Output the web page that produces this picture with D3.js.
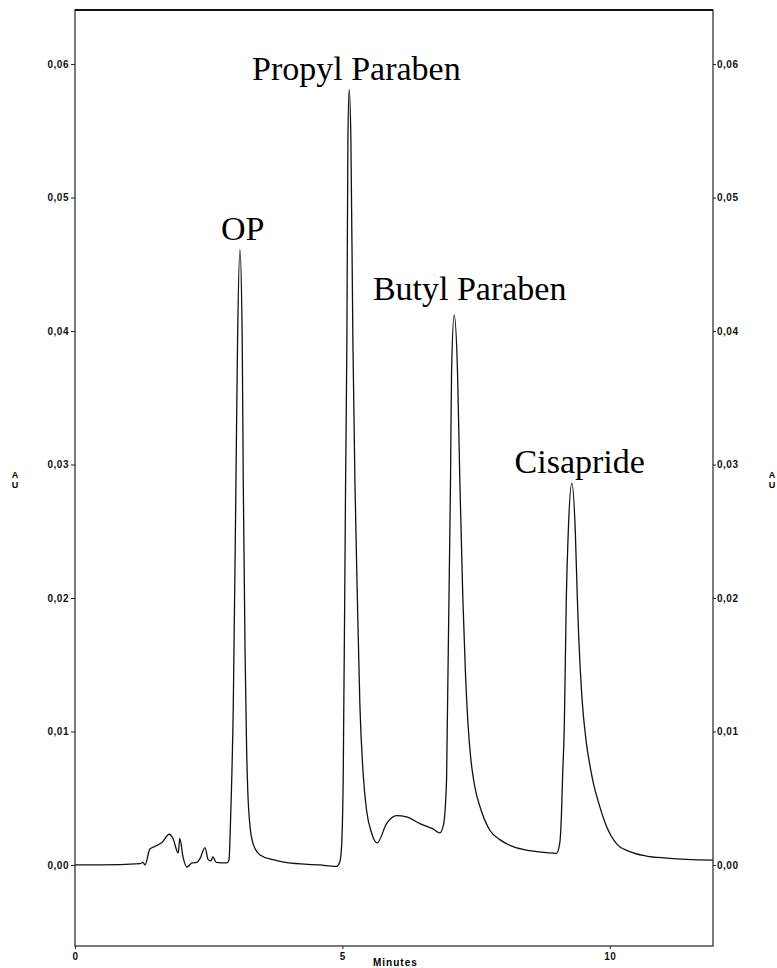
<!DOCTYPE html>
<html>
<head>
<meta charset="utf-8">
<script src="https://cdnjs.cloudflare.com/ajax/libs/d3/7.8.5/d3.min.js"></script>
<style>
  body { margin: 0; background: #fff; }
  .tick text { font-family: Arial, "Liberation Sans", sans-serif; font-weight: bold; font-size: 10px; letter-spacing: 0.5px; fill: #111; }
  .tick line { stroke: #222; }
  .domain { display: none; }
</style>
</head>
<body>
<div id="chart"></div>
<script>
// retention time (minutes) and absorbance (AU)
let times = [0, 0.47, 1.22, 1.27, 1.31, 1.40, 1.50, 1.63, 1.76, 1.83, 1.93, 1.96, 2.02, 2.09, 2.19, 2.28, 2.34, 2.43, 2.49, 2.54, 2.58, 2.64, 2.84, 2.88,
    2.91, 2.96, 3.01, 3.04, 3.084, 3.127, 3.146, 3.18, 3.21, 3.234, 3.27, 3.33, 3.46, 3.70, 3.96, 4.58,
    4.89, 4.95, 4.985, 5.015, 5.06, 5.084, 5.103, 5.127, 5.159, 5.196, 5.234, 5.28, 5.327, 5.389, 5.452, 5.546, 5.65,
    5.826, 6.013, 6.2, 6.449, 6.697, 6.822, 6.89, 6.948, 7.022, 7.041, 7.09, 7.153, 7.196, 7.252, 7.30, 7.35, 7.40, 7.445, 7.50,
    7.57, 7.757, 7.944, 8.193, 8.505, 8.817, 9.004, 9.065, 9.097, 9.116, 9.15, 9.187, 9.224, 9.29, 9.355, 9.393,
    9.42, 9.48, 9.56, 9.64, 9.70, 9.781, 9.938, 10.125, 10.374, 10.686, 11.06, 11.434, 11.93]
let absorbance = [0, 0, 0.0001, 0.0002, 0.0000, 0.0012, 0.0014, 0.0017, 0.0023, 0.0020, 0.0009, 0.0020, 0.0006, -0.00015, 0.00015, 0.0002, 0.0005, 0.0013, 0.0004, 0.0003, 0.0006, 0.0002, 0.00015, 0.0004,
    0.0035, 0.0120, 0.0288, 0.0393, 0.0461, 0.0393, 0.0288, 0.0160, 0.0085, 0.0052, 0.0030, 0.0016, 0.00075, 0.0004, 0.00017, 0.0000,
    -0.0001, 0.0002, 0.0014, 0.0064, 0.0288, 0.0393, 0.0543, 0.0581, 0.0543, 0.0393, 0.0288, 0.0200, 0.0120, 0.0068, 0.0041, 0.0024, 0.00165,
    0.0031, 0.0037, 0.0036, 0.0031, 0.0027, 0.0024, 0.0030, 0.0064, 0.0288, 0.0369, 0.0412, 0.0369, 0.0288, 0.0200, 0.0145, 0.0105, 0.0080, 0.0066, 0.0054,
    0.0044, 0.0026, 0.0019, 0.00137, 0.00107, 0.00092, 0.00087, 0.00165, 0.0039, 0.0064, 0.0105, 0.0200, 0.0250, 0.0286, 0.0250, 0.0200,
    0.0170, 0.0125, 0.0092, 0.0072, 0.0060, 0.0048, 0.0029, 0.0016, 0.0010, 0.00067, 0.00052, 0.00042, 0.00037]

let yTicks = [0, 0.01, 0.02, 0.03, 0.04, 0.05, 0.06]
let xTicks = [0, 5, 10]

let peakNames = ["OP", "Propyl Paraben", "Butyl Paraben", "Cisapride"]
let peakLabelTime = [2.73, 3.31, 5.57, 8.22]
let peakLabelAU = [0.0468, 0.0588, 0.0423, 0.0294]

let margin = {top: 10, right: 64, bottom: 22, left: 75}
let width = 777 - margin.left - margin.right
let height = 968 - margin.top - margin.bottom

let svg = d3.select("#chart")
    .append("svg")
    .attr("width", 777)
    .attr("height", 968)
    .append("g")
    .attr("transform", "translate(" + margin.left + "," + margin.top + ")")

let x = d3.scaleLinear().domain([0, 11.93]).range([0, width])
let y = d3.scaleLinear().domain([-0.00607, 0.06405]).range([height, 0])

let fmt = d => d3.format(".2f")(d).replace(".", ",")

svg.append("g")
    .call(d3.axisLeft(y).tickValues(yTicks).tickFormat(fmt).tickSize(4).tickPadding(2))

svg.append("g")
    .attr("transform", "translate(" + width + ",0)")
    .call(d3.axisRight(y).tickValues(yTicks).tickFormat(fmt).tickSize(3).tickPadding(1))

svg.append("g")
    .attr("transform", "translate(0," + height + ")")
    .call(d3.axisBottom(x).tickValues(xTicks).tickFormat(d3.format("d")).tickSize(3).tickPadding(4))

// frame
svg.append("rect")
    .attr("width", width)
    .attr("height", height)
    .style("fill", "none")
    .style("stroke", "#222")
    .style("stroke-width", 1.2)
svg.append("line")
    .attr("x1", 0).attr("x2", width)
    .attr("y1", 0).attr("y2", 0)
    .style("stroke", "#111")
    .style("stroke-width", 2)

// trace
let trace = times.map((t, i) => ({t: t, v: absorbance[i]}))
svg.append("path")
    .datum(trace)
    .attr("d", d3.line()
        .x(d => x(d.t))
        .y(d => y(d.v))
        .curve(d3.curveMonotoneX))
    .style("fill", "none")
    .style("stroke", "#111")
    .style("stroke-width", 1.3)

// peak names
svg.selectAll(".peak")
    .data(peakNames)
    .enter()
    .append("text")
    .attr("class", "peak")
    .attr("x", (d, i) => x(peakLabelTime[i]))
    .attr("y", (d, i) => y(peakLabelAU[i]))
    .style("font-family", "'Liberation Serif', 'Times New Roman', serif")
    .style("font-size", "34px")
    .style("fill", "#000")
    .text(d => d)

// axis titles
svg.append("text")
    .attr("x", x(5.0) + 53)
    .attr("y", height + 20)
    .attr("text-anchor", "middle")
    .style("font-family", "Arial, 'Liberation Sans', sans-serif")
    .style("font-weight", "bold")
    .style("font-size", "10px")
    .style("letter-spacing", "1px")
    .text("Minutes")

let auX = [-60, width + 59]
auX.forEach(ax => {
    ["A", "U"].forEach((ch, i) => {
        svg.append("text")
            .attr("x", ax)
            .attr("y", y(0.03) + 13 + i * 10)
            .attr("text-anchor", "middle")
            .style("font-family", "Arial, 'Liberation Sans', sans-serif")
            .style("font-weight", "bold")
            .style("font-size", "9px")
            .text(ch)
    })
})
</script>
</body>
</html>
